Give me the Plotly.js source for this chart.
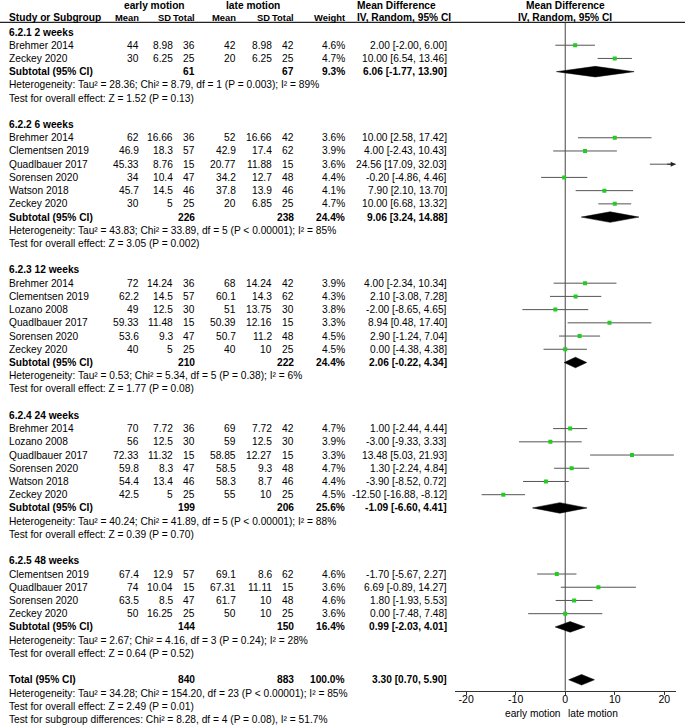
<!DOCTYPE html>
<html><head><meta charset="utf-8">
<script src="https://cdn.plot.ly/plotly-3.0.1.min.js"></script>
<style>html,body{margin:0;padding:0;background:#fff}#chart{width:685px;height:725px}</style>
</head><body><div id="chart"></div>
<script>
// ---------------- DATA ----------------
const groupNames = ['6.2.1 2 weeks', '6.2.2 6 weeks', '6.2.3 12 weeks', '6.2.4 24 weeks', '6.2.5 48 weeks'];
const studyGroup = [0, 0, 1, 1, 1, 1, 1, 1, 2, 2, 2, 2, 2, 2, 3, 3, 3, 3, 3, 3, 4, 4, 4, 4];
const studyNames = ['Brehmer 2014', 'Zeckey 2020',
  'Brehmer 2014', 'Clementsen 2019', 'Quadlbauer 2017', 'Sorensen 2020', 'Watson 2018', 'Zeckey 2020',
  'Brehmer 2014', 'Clementsen 2019', 'Lozano 2008', 'Quadlbauer 2017', 'Sorensen 2020', 'Zeckey 2020',
  'Brehmer 2014', 'Lozano 2008', 'Quadlbauer 2017', 'Sorensen 2020', 'Watson 2018', 'Zeckey 2020',
  'Clementsen 2019', 'Quadlbauer 2017', 'Sorensen 2020', 'Zeckey 2020'];
const earlyMean = [44, 30, 62, 46.9, 45.33, 34, 45.7, 30, 72, 62.2, 49, 59.33, 53.6, 40, 70, 56, 72.33, 59.8, 54.4, 42.5, 67.4, 74, 63.5, 50];
const earlySD = [8.98, 6.25, 16.66, 18.3, 8.76, 10.4, 14.5, 5, 14.24, 14.5, 12.5, 11.48, 9.3, 5, 7.72, 12.5, 11.32, 8.3, 13.4, 5, 12.9, 10.04, 8.5, 16.25];
const earlyN = [36, 25, 36, 57, 15, 47, 46, 25, 36, 57, 30, 15, 47, 25, 36, 30, 15, 47, 46, 25, 57, 15, 47, 25];
const lateMean = [42, 20, 52, 42.9, 20.77, 34.2, 37.8, 20, 68, 60.1, 51, 50.39, 50.7, 40, 69, 59, 58.85, 58.5, 58.3, 55, 69.1, 67.31, 61.7, 50];
const lateSD = [8.98, 6.25, 16.66, 17.4, 11.88, 12.7, 13.9, 6.85, 14.24, 14.3, 13.75, 12.16, 11.2, 10, 7.72, 12.5, 12.27, 9.3, 8.7, 10, 8.6, 11.11, 10, 10];
const lateN = [42, 25, 42, 62, 15, 48, 46, 25, 42, 62, 30, 15, 48, 25, 42, 30, 15, 48, 46, 25, 62, 15, 48, 25];
const weightPct = [4.6, 4.7, 3.6, 3.9, 3.6, 4.4, 4.1, 4.7, 3.9, 4.3, 3.8, 3.3, 4.5, 4.5, 4.7, 3.9, 3.3, 4.7, 4.4, 4.5, 4.6, 3.6, 4.6, 3.6];
const meanDiff = [2.00, 10.00, 10.00, 4.00, 24.56, -0.20, 7.90, 10.00, 4.00, 2.10, -2.00, 8.94, 2.90, 0.00, 1.00, -3.00, 13.48, 1.30, -3.90, -12.50, -1.70, 6.69, 1.80, 0.00];
const ciLow = [-2.00, 6.54, 2.58, -2.43, 17.09, -4.86, 2.10, 6.68, -2.34, -3.08, -8.65, 0.48, -1.24, -4.38, -2.44, -9.33, 5.03, -2.24, -8.52, -16.88, -5.67, -0.89, -1.93, -7.48];
const ciHigh = [6.00, 13.46, 17.42, 10.43, 32.03, 4.46, 13.70, 13.32, 10.34, 7.28, 4.65, 17.40, 7.04, 4.38, 4.44, 3.33, 21.93, 4.84, 0.72, -8.12, 2.27, 14.27, 5.53, 7.48];

const subEarlyN = [61, 226, 210, 199, 144];
const subLateN = [67, 238, 222, 206, 150];
const subWeight = [9.3, 24.4, 24.4, 25.6, 16.4];
const subMD = [6.06, 9.06, 2.06, -1.09, 0.99];
const subLow = [-1.77, 3.24, -0.22, -6.60, -2.03];
const subHigh = [13.90, 14.88, 4.34, 4.41, 4.01];
const subHet = [
  'Heterogeneity: Tau² = 28.36; Chi² = 8.79, df = 1 (P = 0.003); I² = 89%',
  'Heterogeneity: Tau² = 43.83; Chi² = 33.89, df = 5 (P < 0.00001); I² = 85%',
  'Heterogeneity: Tau² = 0.53; Chi² = 5.34, df = 5 (P = 0.38); I² = 6%',
  'Heterogeneity: Tau² = 40.24; Chi² = 41.89, df = 5 (P < 0.00001); I² = 88%',
  'Heterogeneity: Tau² = 2.67; Chi² = 4.16, df = 3 (P = 0.24); I² = 28%'];
const subTest = [
  'Test for overall effect: Z = 1.52 (P = 0.13)',
  'Test for overall effect: Z = 3.05 (P = 0.002)',
  'Test for overall effect: Z = 1.77 (P = 0.08)',
  'Test for overall effect: Z = 0.39 (P = 0.70)',
  'Test for overall effect: Z = 0.64 (P = 0.52)'];

const totalEarlyN = [840];
const totalLateN = [883];
const totalWeight = [100.0];
const totalMD = [3.30];
const totalLow = [0.70];
const totalHigh = [5.90];
const totalTexts = [
  'Heterogeneity: Tau² = 34.28; Chi² = 154.20, df = 23 (P < 0.00001); I² = 85%',
  'Test for overall effect: Z = 2.49 (P = 0.01)',
  'Test for subgroup differences: Chi² = 8.28, df = 4 (P = 0.08), I² = 51.7%'];

const xTicks = [-20, -10, 0, 10, 20];
const xSideLabels = ['early motion', 'late motion'];

// ---------------- LAYOUT HELPERS ----------------
const W = 685, H = 725, ROW0 = 32, PITCH = 13.22;
const yTop = -ROW0 / PITCH, yBot = (H - ROW0) / PITCH;
const py = px => 1 - px / H;
const XR = [-22.25, 22.3];
const FONT = 'Liberation Sans, Arial, sans-serif';
const FS = 10.2;
const COL = {eMean: 138.5, eSD: 172.5, eN: 194.5, lMean: 235.5, lSD: 271.5, lN: 293.5, w: 344.5, ci: 446.5};
const LEFT = 9;
const ann = [];
function t(xpx, y, text, anchor, paperY, size) {
  ann.push({xref: 'paper', x: xpx / W, yref: paperY ? 'paper' : 'y', y: y, text: text,
    xanchor: anchor, yanchor: 'middle', showarrow: false, borderpad: 0, borderwidth: 0,
    font: {family: FONT, size: size || FS, color: '#000'}});
}
const b = s => '<b>' + s + '</b>';
const ciStr = (m, l, h) => m.toFixed(2) + ' [' + l.toFixed(2) + ', ' + h.toFixed(2) + ']';

// header
const HS = 9.4;
t(154, py(5), b('early motion'), 'center', true);
t(253, py(5), b('late motion'), 'center', true);
t(357, py(5), b('Mean Difference'), 'left', true);
t(565, py(5), b('Mean Difference'), 'center', true);
t(LEFT, py(17), b('Study or Subgroup'), 'left', true);
t(COL.eMean, py(17), b('Mean'), 'right', true, HS);
t(COL.eSD - 2, py(17), b('SD'), 'right', true, HS);
t(COL.eN, py(17), b('Total'), 'right', true, HS);
t(COL.lMean, py(17), b('Mean'), 'right', true, HS);
t(COL.lSD - 2, py(17), b('SD'), 'right', true, HS);
t(COL.lN, py(17), b('Total'), 'right', true, HS);
t(COL.w, py(17), b('Weight'), 'right', true, HS);
t(357, py(17), b('IV, Random, 95% CI'), 'left', true);
t(565, py(17), b('IV, Random, 95% CI'), 'center', true);

// rows
let r = 0;
const studyRow = [], subRow = [];
groupNames.forEach((g, gi) => {
  t(LEFT, r, b(g), 'left'); r++;
  studyNames.forEach((s, i) => {
    if (studyGroup[i] !== gi) return;
    studyRow[i] = r;
    t(LEFT, r, s, 'left');
    t(COL.eMean, r, String(earlyMean[i]), 'right');
    t(COL.eSD, r, String(earlySD[i]), 'right');
    t(COL.eN, r, String(earlyN[i]), 'right');
    t(COL.lMean, r, String(lateMean[i]), 'right');
    t(COL.lSD, r, String(lateSD[i]), 'right');
    t(COL.lN, r, String(lateN[i]), 'right');
    t(COL.w, r, weightPct[i].toFixed(1) + '%', 'right');
    t(COL.ci, r, ciStr(meanDiff[i], ciLow[i], ciHigh[i]), 'right');
    r++;
  });
  subRow[gi] = r;
  t(LEFT, r, b('Subtotal (95% CI)'), 'left');
  t(COL.eN, r, b(String(subEarlyN[gi])), 'right');
  t(COL.lN, r, b(String(subLateN[gi])), 'right');
  t(COL.w, r, b(subWeight[gi].toFixed(1) + '%'), 'right');
  t(COL.ci, r, b(ciStr(subMD[gi], subLow[gi], subHigh[gi])), 'right');
  r++;
  t(LEFT, r, subHet[gi], 'left'); r++;
  t(LEFT, r, subTest[gi], 'left'); r++;
  r++;
});
const totalRow = r;
t(LEFT, r, b('Total (95% CI)'), 'left');
t(COL.eN, r, b(String(totalEarlyN[0])), 'right');
t(COL.lN, r, b(String(totalLateN[0])), 'right');
t(COL.w, r, b(totalWeight[0].toFixed(1) + '%'), 'right');
t(COL.ci, r, b(ciStr(totalMD[0], totalLow[0], totalHigh[0])), 'right');
r++;
totalTexts.forEach(s => { t(LEFT, r, s, 'left'); r++; });

// axis side labels
t(532.7, py(713), xSideLabels[0], 'center', true);
t(593.3, py(713), xSideLabels[1], 'center', true);

// arrows for CIs beyond axis
studyNames.forEach((s, i) => {
  if (ciHigh[i] > XR[1]) {
    ann.push({xref: 'x', yref: 'y', x: XR[1], y: studyRow[i], ax: -10, ay: 0, text: '',
      showarrow: true, arrowhead: 2, arrowsize: 1, arrowwidth: 1, arrowcolor: '#222'});
  }
  if (ciLow[i] < XR[0]) {
    ann.push({xref: 'x', yref: 'y', x: XR[0], y: studyRow[i], ax: 10, ay: 0, text: '',
      showarrow: true, arrowhead: 2, arrowsize: 1, arrowwidth: 1, arrowcolor: '#222'});
  }
});

// ---------------- TRACES ----------------
const traces = [];
traces.push({
  type: 'scatter', mode: 'markers', x: meanDiff, y: studyRow,
  marker: {symbol: 'square', size: 4, color: '#22cc22', line: {width: 0}},
  error_x: {type: 'data', symmetric: false,
    array: ciHigh.map((h, i) => h - meanDiff[i]),
    arrayminus: ciLow.map((l, i) => meanDiff[i] - l),
    width: 0, thickness: 1, color: '#555'},
  hoverinfo: 'skip', showlegend: false
});
const DH = 0.4;
function diamond(m, l, h, row) {
  traces.push({type: 'scatter', mode: 'lines', x: [l, m, h, m, l], y: [row, row - DH, row, row + DH, row],
    fill: 'toself', fillcolor: '#000', line: {color: '#000', width: 0.5},
    hoverinfo: 'skip', showlegend: false});
}
subMD.forEach((m, gi) => diamond(m, subLow[gi], subHigh[gi], subRow[gi]));
diamond(totalMD[0], totalLow[0], totalHigh[0], totalRow);

const layout = {
  width: W, height: H, margin: {l: 0, r: 0, t: 0, b: 0},
  paper_bgcolor: '#fff', plot_bgcolor: 'rgba(0,0,0,0)',
  showlegend: false, hovermode: false,
  xaxis: {domain: [455 / W, 675.7 / W], range: XR, anchor: 'free', position: py(690.7),
    showline: true, linecolor: '#333', linewidth: 1, ticks: 'outside', ticklen: 3, tickcolor: '#333',
    ticklabelstandoff: -4,
    tickvals: xTicks, ticktext: xTicks.map(String), tickfont: {family: FONT, size: 10.5, color: '#000'},
    showgrid: false, zeroline: false, fixedrange: true},
  yaxis: {domain: [0, 1], range: [yBot, yTop], visible: false, fixedrange: true},
  annotations: ann,
  shapes: [
    {type: 'line', xref: 'paper', x0: 0, x1: 1, yref: 'paper', y0: py(22.3), y1: py(22.3), line: {color: '#222', width: 1.3}},
    {type: 'line', xref: 'x', x0: 0, x1: 0, yref: 'paper', y0: py(22.5), y1: py(690.7), line: {color: '#444', width: 1}, layer: 'below'}
  ]
};
Plotly.newPlot('chart', traces, layout, {displayModeBar: false, staticPlot: true});
</script>
</body></html>
